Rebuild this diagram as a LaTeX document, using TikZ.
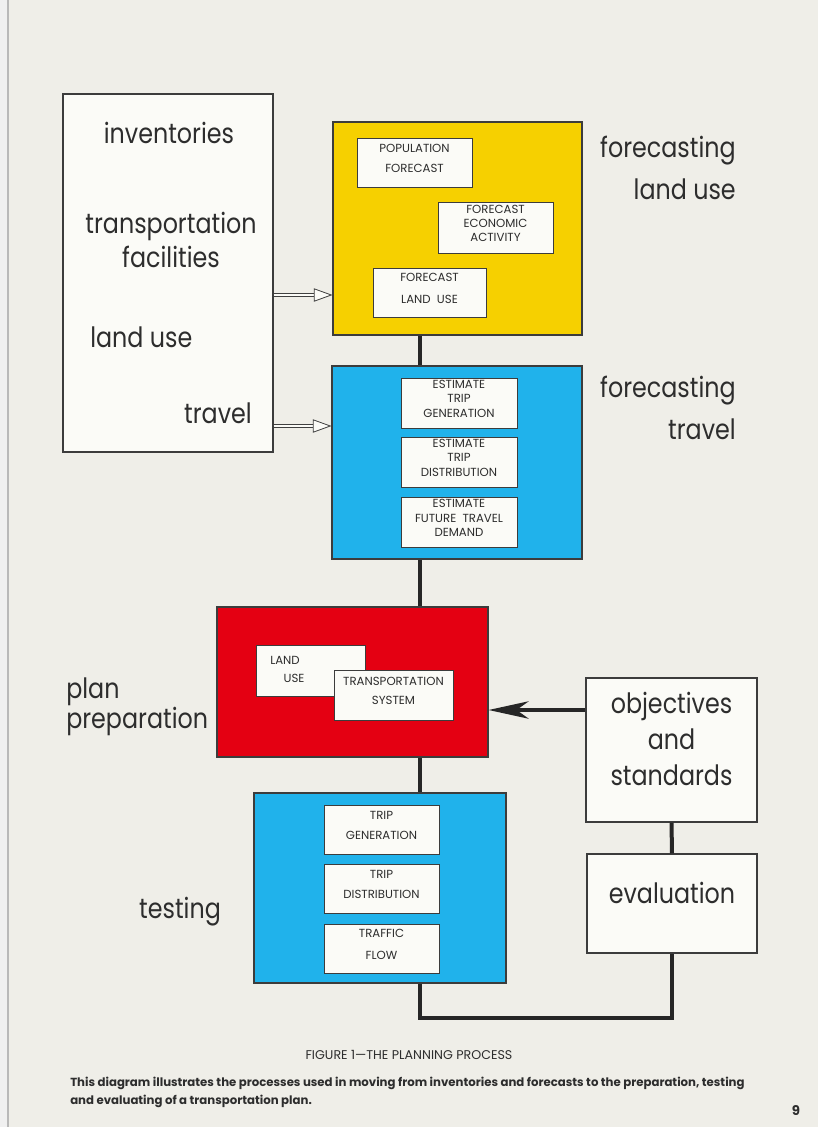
\documentclass[tikz,border=0pt]{standalone}
\usepackage{fontspec}
\setmainfont{Poppins}
\newfontfamily\bigf[FakeStretch=0.85]{Poppins}
\newfontfamily\capf{Poppins}
\usetikzlibrary{fit,arrows.meta}
\definecolor{paper}{RGB}{239,238,232}
\definecolor{boxw}{RGB}{251,251,247}
\definecolor{edge}{RGB}{60,60,60}
\definecolor{ink}{RGB}{45,45,45}
\definecolor{yel}{RGB}{246,208,0}
\definecolor{cyanb}{RGB}{32,178,235}
\definecolor{redb}{RGB}{228,0,18}
\tikzset{
  box/.style={draw=edge, line width=0.8pt, fill=boxw, inner sep=0pt},
  colbox/.style={draw=edge, line width=0.8pt, fill=#1, inner sep=0pt},
  sub/.style={draw=edge, line width=0.7pt, fill=boxw, inner sep=0pt, align=center, text=ink, font=\fontsize{8.8}{#1}\selectfont},
  sub/.default=12,
  lbl/.style={font=\bigf\fontsize{21}{#1}\selectfont, text=ink, inner sep=0pt},
  lbl/.default=26,
  conn/.style={line width=3pt, draw=black!85},
  harrow/.style={draw=gray!50!black, line width=0.6pt, double=boxw, double distance=2pt, -{Triangle[open,length=14pt,width=10pt,fill=boxw]}},
  barrow/.style={line width=3pt, draw=black!85, -{Stealth[length=30pt,width=13pt,inset=9pt]}}
}
\begin{document}
\begin{tikzpicture}[x=0.75pt,y=-0.75pt]
\fill[paper] (0,0) rectangle (818,1127);
\useasboundingbox (0,0) rectangle (818,1127);
\fill[gray!12] (0,0) rectangle (8,1127);
\draw[gray!55, line width=0.8pt] (8,0) -- (8,1127);

% left box
\node[box, fit={(63,94) (273,452)}] (inv) {};
\node[lbl] (t1) at (169,133) {inventories};
\node[lbl=26, align=center] (t2) at (171,240) {transportation\\facilities};
\node[lbl, anchor=west] (t3) at (90,337) {land use};
\node[lbl, anchor=east] (t4) at (252,413) {travel};

% yellow
\node[colbox=yel, fit={(333,122) (582,335)}] (yellow) {};
\node[sub=15, fit={(357,138) (472,187)}] (pop) {POPULATION\\FORECAST};
\node[sub=10.8, fit={(438,202) (553,253)}] (econ) {FORECAST\\ECONOMIC\\ACTIVITY};
\node[sub=16.5, fit={(373,268) (486,317)}] (flu) {FORECAST\\LAND\ \ USE};
\node[lbl=32, anchor=east, align=right] (fl) at (736,168) {forecasting\\land use};

% blue 1
\node[colbox=cyanb, fit={(332,366) (582,559)}] (blue1) {};
\node[sub=11.2, fit={(401,378) (517,428)}] (etg) {ESTIMATE\\TRIP\\GENERATION};
\node[sub=11.2, fit={(401,437) (517,487)}] (etd) {ESTIMATE\\TRIP\\DISTRIBUTION};
\node[sub=11.2, fit={(401,497) (517,547)}] (eft) {ESTIMATE\\FUTURE\ \ TRAVEL\\DEMAND};
\node[lbl=32, anchor=east, align=right] (ft) at (736,408) {forecasting\\travel};

% red
\node[colbox=redb, fit={(217,607) (488,757)}] (red) {};
\node[sub, fit={(256,645) (365,696)}] (lu) {};
\node[text=ink, font=\fontsize{8.8}{13.5}\selectfont, align=left, inner sep=0pt, anchor=north west] (lut) at (270,656) {LAND\\\hspace{10pt}USE};
\node[sub=14.5, fit={(334,670) (453,720)}] (ts) {TRANSPORTATION\\SYSTEM};
\node[lbl=22.5, anchor=west, align=left] (pp) at (66,707) {plan\\preparation};

% objectives / evaluation
\node[box, fit={(586,678) (757,822)}, align=center, font=\bigf\fontsize{21}{27}\selectfont, text=ink] (obj) {objectives\\and\\standards};
\node[box, fit={(587,854) (757,953)}, font=\bigf\fontsize{21}{26}\selectfont, text=ink] (eval) {evaluation};

% blue 2
\node[colbox=cyanb, fit={(254,793) (506,983)}] (blue2) {};
\node[sub=15, fit={(324,805) (439,854)}] (tg) {TRIP\\GENERATION};
\node[sub=15, fit={(324,864) (439,913)}] (td) {TRIP\\DISTRIBUTION};
\node[sub=16, fit={(324,924) (439,973)}] (tf) {TRAFFIC\\FLOW};
\node[lbl] (te) at (180,912) {testing};

% connectors
\coordinate (cx) at (420,0);
\draw[conn] (yellow.south -| cx) -- (blue1.north -| cx);
\draw[conn] (blue1.south -| cx) -- (red.north -| cx);
\draw[conn] (red.south -| cx) -- (blue2.north -| cx);
\draw[conn] (obj.south) -- (eval.north);
\draw[conn] (blue2.south -| cx) -- ++(0,34) -| (eval.south);
\draw[barrow] (obj.west |- 0,710) -- (red.east |- 0,710);
\draw[harrow] (inv.east |- 0,295) -- (yellow.west |- 0,295);
\draw[harrow] (inv.east |- 0,426) -- (blue1.west |- 0,426);

% caption
\node[text=ink, font=\capf\fontsize{9.5}{11}\selectfont, inner sep=0pt] (cap) at (409,1055) {FIGURE 1—THE PLANNING PROCESS};
\node[text=ink, font=\capf\bfseries\fontsize{8.8}{10}\selectfont, inner sep=0pt, anchor=west] (d1) at (70,1083) {This diagram illustrates the processes used in moving from inventories and forecasts to the preparation, testing};
\node[text=ink, font=\capf\bfseries\fontsize{8.8}{10}\selectfont, inner sep=0pt, anchor=west] (d2) at (70,1101) {and evaluating of a transportation plan.};
\node[text=ink, font=\capf\bfseries\fontsize{10}{12}\selectfont, inner sep=0pt] (pg) at (796,1111) {9};
\end{tikzpicture}
\end{document}
